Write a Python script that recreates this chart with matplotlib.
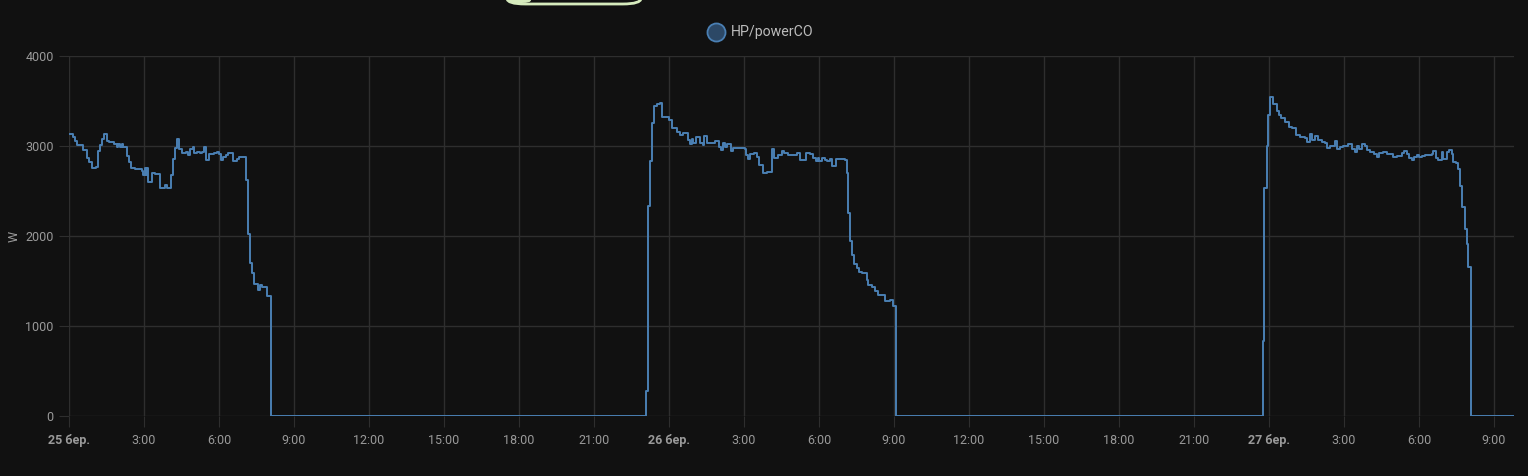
import matplotlib
matplotlib.use("Agg")
import matplotlib.pyplot as plt
from matplotlib.patches import FancyBboxPatch
from matplotlib.lines import Line2D

plt.rcParams["font.family"] = ["Roboto", "DejaVu Sans"]

BG = "#111111"
GRID = "#2e2e2e"
TXT = "#9a9a9a"
LINE = "#4a7fb3"

# hours since 25 бер. 00:00, value in W (step changes)
hours = [
    0.04, 0.17, 0.24, 0.33, 0.57, 0.73, 0.81, 0.91, 1.07, 1.17, 1.24, 1.33, 1.41,
    1.51, 1.61, 1.81, 1.91, 1.97, 2.04, 2.11, 2.17, 2.31, 2.40, 2.48, 2.64, 2.91,
    2.97, 3.04, 3.08, 3.13, 3.17, 3.31, 3.44, 3.64, 3.84, 3.93, 4.08, 4.15, 4.24,
    4.31, 4.40, 4.51, 4.68, 4.75, 4.84, 4.97, 5.01, 5.13, 5.24, 5.31, 5.41, 5.48,
    5.59, 5.81, 5.91, 6.00, 6.08, 6.17, 6.28, 6.37, 6.55, 6.73, 6.81, 7.07, 7.15,
    7.24, 7.33, 7.41, 7.57, 7.64, 7.73, 7.91, 8.08,
    23.08, 23.15, 23.24, 23.33, 23.41, 23.51, 23.64, 23.73, 23.84, 24.00, 24.13,
    24.31, 24.44, 24.57, 24.77, 24.84, 24.91, 24.97, 25.08, 25.24, 25.35, 25.40,
    25.51, 25.84, 26.01, 26.08, 26.15, 26.24, 26.31, 26.48, 26.57, 27.04, 27.08,
    27.17, 27.24, 27.40, 27.51, 27.61, 27.75, 27.91, 28.11, 28.20, 28.37, 28.51,
    28.60, 28.77, 29.11, 29.24, 29.48, 29.64, 29.75, 29.88, 29.95, 30.01, 30.11,
    30.24, 30.33, 30.44, 30.51, 30.67, 31.04, 31.11, 31.17, 31.24, 31.31, 31.40,
    31.51, 31.61, 31.71, 31.91, 31.97, 32.11, 32.24, 32.37, 32.64, 32.84, 32.97,
    33.07,
    47.75, 47.81, 47.91, 47.97, 48.04, 48.15, 48.31, 48.40, 48.48, 48.64, 48.81,
    48.91, 49.08, 49.24, 49.44, 49.53, 49.64, 49.71, 49.84, 49.97, 50.11, 50.24,
    50.33, 50.44, 50.64, 50.73, 50.84, 50.97, 51.17, 51.31, 51.44, 51.53, 51.61,
    51.73, 51.84, 51.93, 52.04, 52.20, 52.31, 52.41, 52.55, 52.71, 52.97, 53.11,
    53.31, 53.40, 53.51, 53.61, 53.71, 53.80, 53.91, 54.01, 54.11, 54.24, 54.51,
    54.57, 54.68, 54.77, 54.91, 54.97, 55.11, 55.21, 55.31, 55.37, 55.48, 55.57,
    55.64, 55.73, 55.84, 55.91, 55.97, 56.07, 57.8,
]
power = [
    3130, 3104, 3059, 3011, 2956, 2863, 2826, 2752, 2770, 2948, 3011, 3074, 3133,
    3059, 3044, 3022, 2993, 3022, 2993, 3022, 2993, 2889, 2826, 2752, 2741, 2726,
    2678, 2752, 2678, 2752, 2604, 2696, 2689, 2537, 2567, 2537, 2678, 2852, 2974,
    3078, 2963, 2919, 2930, 2900, 2963, 2985, 2919, 2937, 2926, 2937, 2993, 2844,
    2911, 2919, 2930, 2907, 2844, 2874, 2900, 2919, 2837, 2852, 2874, 2622, 2022,
    1704, 1585, 1467, 1400, 1456, 1430, 1333, 0,
    281, 2337, 2833, 3252, 3448, 3467, 3474, 3319, 3326, 3289, 3196,
    3152, 3122, 3148, 3067, 3022, 3074, 3030, 3104, 3030, 3011, 3111,
    3037, 3056, 2993, 2956, 3037, 2985, 3019, 2948, 2974, 2963, 2900,
    2852, 2911, 2926, 2881, 2789, 2704, 2715, 2963, 2870, 2900, 2944,
    2919, 2900, 2926, 2848, 2919, 2907, 2863, 2837, 2870, 2837, 2863,
    2848, 2830, 2856, 2778, 2859, 2848, 2696, 2259, 1944, 1789, 1689,
    1641, 1604, 1585, 1511, 1456, 1437, 1393, 1344, 1282, 1289, 1222,
    0,
    837, 2537, 3000, 3344, 3548, 3463, 3389, 3344, 3307, 3270, 3215,
    3196, 3122, 3104, 3085, 3048, 3130, 3067, 3111, 3067, 3048, 3030,
    2974, 3000, 3054, 2963, 2989, 3000, 3019, 2963, 2933, 3000, 2963,
    3019, 3000, 2956, 2930, 2911, 2883, 2919, 2930, 2911, 2874, 2893,
    2922, 2948, 2911, 2867, 2844, 2883, 2900, 2874, 2893, 2904, 2911,
    2948, 2867, 2844, 2930, 2852, 2930, 2956, 2911, 2819, 2807, 2744,
    2559, 2326, 2078, 1911, 1659, 0, 0,
]

tick_hours = list(range(0, 58, 3))
day_labels = {0: "25 бер.", 24: "26 бер.", 48: "27 бер."}
y_ticks = [0, 1000, 2000, 3000, 4000]

fig = plt.figure(figsize=(15.28, 4.76), dpi=100, facecolor=BG)
W, H = 1528, 476
ax = fig.add_axes([69 / W, 1 - 416 / H, (1514 - 69) / W, 360 / H], facecolor=BG)

ax.step(hours, power, where="post", color=LINE, lw=1.4, zorder=3)

ax.set_xlim(0, 57.8)
ax.set_ylim(0, 4000)
ax.set_xticks(tick_hours)
ax.set_xticklabels([day_labels.get(h, f"{h % 24}:00") for h in tick_hours])
for lbl, h in zip(ax.get_xticklabels(), tick_hours):
    if h in day_labels:
        lbl.set_fontweight("bold")
ax.set_yticks(y_ticks)
ax.grid(True, color=GRID, lw=1)
for s in ax.spines.values():
    s.set_visible(False)
ax.tick_params(axis="x", colors=TXT, labelsize=9, length=8, color=GRID, pad=5)
ax.tick_params(axis="y", colors=TXT, labelsize=9, length=7, color=GRID, pad=4)
ax.set_ylabel("W", color=TXT, fontsize=9, va="center")
ax.yaxis.set_label_coords(-55 / (1514 - 69), 0.5)

# legend
fig.add_artist(Line2D([716 / W], [1 - 32 / H], transform=fig.transFigure,
                      marker="o", markersize=13, markerfacecolor="#2c4866",
                      markeredgecolor=LINE, markeredgewidth=1.3, linestyle="none"))
fig.text(731 / W, 1 - 32 / H, "HP/powerCO", color="#bcbcbc", fontsize=10.2,
         va="center", ha="left")

# partially visible toggle chip at the top
fig.patches.append(FancyBboxPatch((507 / W, 1 - 4 / H), 134 / W, 30 / H,
                                  boxstyle="round,pad=0,rounding_size=0.012",
                                  transform=fig.transFigure, facecolor=BG,
                                  edgecolor="#d6ebbd", lw=2, clip_on=False))
fig.patches.append(FancyBboxPatch((509 / W, 1 - 3 / H), 22 / W, 30 / H,
                                  boxstyle="round,pad=0,rounding_size=0.006",
                                  transform=fig.transFigure, facecolor="#d6ebbd",
                                  edgecolor="none", clip_on=False))

fig.savefig("out.png", dpi=100, facecolor=BG)
